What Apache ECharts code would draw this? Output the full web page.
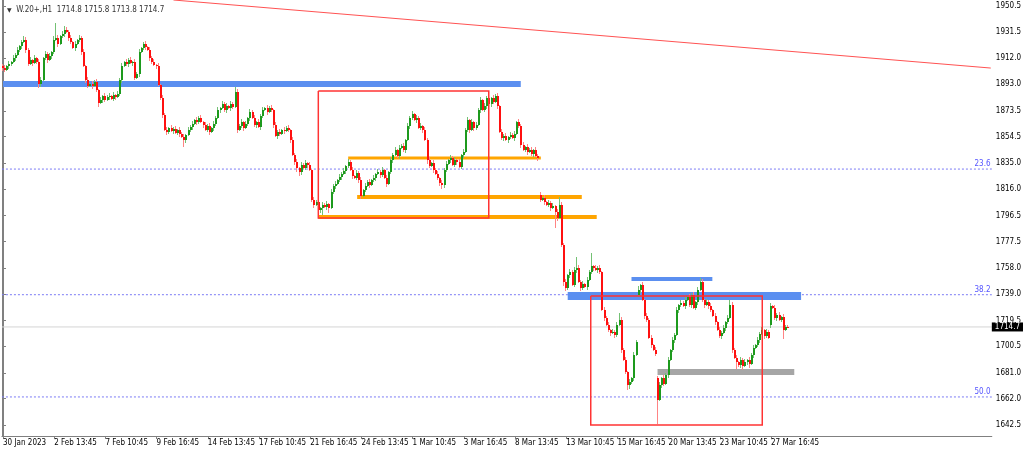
<!DOCTYPE html>
<html>
<head>
<meta charset="utf-8">
<script src="https://cdn.jsdelivr.net/npm/echarts@6/dist/echarts.min.js"></script>
<style>
html,body{margin:0;padding:0;background:#fff;}
#c{width:1024px;height:449px;}
</style>
</head>
<body>
<div id="c"></div>
<script>
// ---------- data ----------
const symbolTitle = 'W.20+,H1';
const lastBar = ['1714.8', '1715.8', '1713.8', '1714.7'];
const lastPrice = 1714.7;

const tickLabels = ['30 Jan 2023','2 Feb 13:45','7 Feb 10:45','9 Feb 16:45','14 Feb 13:45','17 Feb 10:45',
  '21 Feb 16:45','24 Feb 13:45','1 Mar 10:45','3 Mar 16:45','8 Mar 13:45','13 Mar 10:45',
  '15 Mar 16:45','20 Mar 13:45','23 Mar 10:45','27 Mar 16:45'];
const barsPerLabel = 24;
const totalSlots = 464;

const yTicks = [1642.5,1662.0,1681.0,1700.5,1719.5,1739.0,1758.0,1777.5,1796.5,1816.0,1835.0,1854.5,1873.5,1893.0,1912.0,1931.5,1950.5];
const yMin = 1634.6, yMax = 1954.9;

const closes = [
1904.9,1903.5,1906.4,1907.9,1909.4,1912.3,1914.5,1918.2,1921.1,1924.0,
1925.5,1918.2,1907.9,1910.8,1908.6,1912.3,1909.4,1893.2,1896.1,1912.3,
1915.2,1910.8,1913.8,1916.7,1925.5,1927.0,1922.6,1928.5,1929.9,1932.9,
1931.4,1927.0,1924.0,1919.6,1922.6,1925.5,1927.0,1916.7,1906.4,1896.1,
1891.7,1893.2,1891.7,1894.7,1888.8,1879.2,1881.4,1884.4,1881.4,1883.6,
1884.4,1882.2,1885.1,1883.6,1885.8,1896.1,1906.4,1909.4,1907.9,1910.8,
1908.6,1909.4,1897.6,1900.5,1916.7,1919.6,1922.6,1920.4,1918.2,1912.3,
1909.4,1907.1,1906.4,1892.5,1882.9,1870.4,1859.4,1857.9,1860.9,1858.7,
1860.1,1857.2,1859.4,1856.5,1854.3,1852.1,1855.7,1859.4,1861.6,1863.8,
1866.8,1865.3,1868.2,1865.3,1863.1,1859.4,1862.3,1857.9,1860.9,1863.8,
1868.2,1874.1,1875.6,1878.5,1874.1,1877.0,1875.6,1878.5,1876.3,1887.3,
1859.4,1862.3,1865.3,1860.9,1863.8,1868.2,1872.6,1868.2,1863.1,1865.3,
1861.6,1869.7,1874.1,1875.6,1872.6,1875.6,1874.1,1863.1,1855.0,1857.9,
1856.5,1859.4,1858.7,1860.9,1859.4,1852.1,1841.0,1835.9,1831.5,1828.5,
1833.7,1831.5,1835.2,1833.7,1830.0,1808.0,1804.3,1806.5,1800.6,1802.1,
1804.3,1802.8,1805.0,1802.1,1813.9,1818.3,1819.7,1822.7,1824.9,1827.1,
1829.3,1832.9,1835.9,1830.0,1825.6,1824.1,1827.8,1822.7,1810.9,1815.3,
1818.3,1821.2,1819.0,1822.7,1824.1,1827.1,1828.5,1826.3,1830.0,1824.1,
1819.7,1828.5,1837.4,1841.0,1844.7,1840.3,1846.2,1847.6,1844.7,1852.1,
1862.3,1868.2,1871.2,1866.8,1868.2,1860.9,1862.3,1859.4,1852.1,1837.4,
1832.9,1835.2,1830.0,1827.1,1824.1,1820.5,1819.0,1830.0,1834.4,1837.4,
1838.8,1833.7,1837.4,1835.9,1832.2,1841.0,1843.2,1859.4,1866.8,1859.4,
1865.3,1860.9,1863.1,1874.1,1881.4,1874.1,1877.0,1882.9,1878.5,1882.9,
1880.0,1884.4,1877.0,1857.9,1853.5,1855.0,1852.1,1854.3,1855.7,1853.5,
1856.5,1865.3,1862.3,1848.4,1844.7,1846.9,1843.2,1844.7,1841.8,1844.7,
1840.3,1838.8,1808.0,1809.4,1806.5,1804.3,1805.8,1802.1,1803.6,1799.2,
1794.8,1804.3,1774.9,1747.7,1743.3,1752.9,1755.1,1745.5,1756.6,1758.0,
1747.7,1743.3,1746.3,1744.1,1749.2,1755.1,1759.5,1758.0,1756.6,1758.0,
1755.1,1727.2,1721.3,1716.2,1712.5,1710.3,1711.0,1708.8,1716.2,1719.8,
1697.8,1690.4,1681.6,1672.1,1674.3,1677.2,1694.1,1703.7,1741.9,1745.5,
1734.5,1722.8,1719.8,1706.6,1701.5,1697.8,1694.9,1661.1,1672.1,1677.2,
1672.8,1679.4,1690.4,1697.8,1705.1,1708.8,1727.2,1730.8,1732.3,1730.1,
1734.5,1736.7,1730.8,1738.2,1728.6,1733.0,1741.9,1747.7,1734.5,1730.8,
1733.0,1730.1,1727.2,1722.8,1718.4,1712.5,1708.1,1710.3,1713.9,1718.4,
1721.3,1730.8,1697.8,1691.9,1689.0,1686.8,1690.4,1686.0,1689.0,1690.4,
1687.5,1694.1,1699.3,1701.5,1705.1,1709.5,1712.5,1708.1,1711.0,1706.6,
1730.1,1728.6,1721.3,1723.5,1719.8,1722.0,1712.5,1714.8,1714.7
];

// bars whose open is not the previous close (session gaps)
const gapOpens = [[0,1906.5],[252,1811.7],[298,1738.2],[307,1677.2],[360,1716.2]];

const wickUp = [
1.5,2,1,2.5,1,2,1.5,2,1,1.5,
3,2,1.5,2,1,2,1,2.5,2,1,
2,1.5,2,1,3,11,2,1,2,3,
2,1.5,2,1,2.5,1,2,1.5,2,1,
2.5,1,2,1.5,2,1,2.5,1,2,1.5,
2,1,2.5,1,2,1.5,2,1,2,1.5,
2,1,2.5,1.5,2,1,1.5,2,1,2,
1.5,2,1,2.5,1,2,1.5,2,1,2,
1.5,2.5,1,2,1.5,2,1,2,1.5,2.5,
1,2,1.5,2,1,2.5,1.5,2,1,2,
1.5,2,1,2.5,1.5,2,1,2,1.5,4,
2,1.5,2,1,2.5,1,2,1.5,2,1,
2,1.5,2.5,1,2,1.5,2,1,2,1.5,
2.5,1,2,1.5,2,1,2.5,1.5,2,1,
2,1.5,2,1,2.5,1,2,1.5,2,1,
2,1.5,2.5,1,2,1.5,2,1,2,1.5,
2,1,2.5,1.5,2,1,2,1.5,2.5,1,
2,1.5,2,1,2.5,1,2,1.5,2,1,
2.5,1,2,1.5,2,1,2.5,1.5,2,1,
2,1.5,2.5,1,2,1.5,2,1,2,1.5,
2,1,2.5,1.5,2,1,2,1.5,2.5,1,
2,1.5,2,1,2.5,1,2,1.5,2,1,
2.5,1,2,1.5,2,1,2.5,1.5,2,1,
2,1.5,2.5,1,2,1.5,2,1,2,1.5,
2,1,2.5,1.5,2,1,2,1.5,2.5,1,
2,1.5,2,1,2.5,1,2,1.5,2,1,
2.5,6,2,1.5,2,1,2.5,1.5,2,8,
2,1.5,2.5,1,2,1.5,9.5,1,2,1.5,
2,1,2.5,1.5,2,1,2,1.5,2.5,5,
2,1.5,2,1,2.5,1,2,1.5,3,1,
2.5,1,2,1.5,2,1,2.5,1.5,2,1,
2,1.5,2.5,1,2,1.5,2,1,2,1.5,
2,1,2.5,1.5,2,1,2,3,2.5,1,
2,1.5,2,1,2.5,1,2,1.5,2,1,
2.5,4,2,1.5,2,1,2.5,1.5,2,1,
2,1.5,2.5,1,2,1.5,2,1,2,1.5,
2,1,2.5,1.5,2,1,2,1,1.0
];

const wickDn = [
2,1.5,1,2,1.5,1,2,1,1.5,2,
1,2,1.5,1,2,1,1.5,3,2,1,
1.5,2,1,2,1.5,1,2,1,1.5,2,
1,2,1.5,1,2,1,1.5,2,1,2,
1.5,1,2,1,1.5,3,1,2,1.5,1,
2,1,1.5,2,1,1.5,2,1,1.5,2,
1,2,1.5,1,2,1,1.5,2,1,2,
1.5,1,2,1,1.5,2,1,2,1.5,1,
2,1,1.5,2,1,5,2,1,1.5,2,
1,2,1.5,1,2,1,1.5,2,1,2,
1.5,1,2,1,1.5,2,1,2,1.5,1,
2,1,1.5,2,1,1.5,2,1,1.5,2,
1,2,1.5,1,2,1,1.5,2,1,2,
1.5,1,2,1,1.5,2,1,2,3,3,
2,1,1.5,2,1,1.5,2,1,4,2,
5,1,2,4,1,1.5,2,1,1.5,2,
1,2,1.5,1,2,1,1.5,2,2,1,
1.5,1,2,1,1.5,2,1,2,1.5,1,
2,1,1.5,2,1,1.5,2,1,1.5,2,
1,2,1.5,1,2,1,1.5,2,1,3,
1.5,1,2,1,1.5,2,3,2,1.5,1,
2,1,1.5,2,1,1.5,2,1,1.5,2,
1,2,1.5,1,2,1,1.5,2,1,2,
1.5,1,2,1,1.5,2,1,2,1.5,1,
2,1,1.5,2,1,1.5,2,1,1.5,2,
1,2,1.5,1,2,1,1.5,2,1,12,
2,1,1.5,3,2,1.5,2,1,1.5,2,
1,2,1.5,1,2,1,1.5,2,1,2,
1.5,1,2,1,1.5,2,1,2,1.5,1,
2,1,1.5,3.5,3,1.5,2,1,1.5,2,
1,2,1.5,1,2,1,1.5,17.7,1,2,
1.5,1,2,1,1.5,2,1,2,1.5,1,
2,1,1.5,2,1,1.5,2,1,1.5,2,
1,2,1.5,1,2,1,1.5,2,1,2,
1.5,1,2,1,5,1.5,2,3,1,2,
3,1,2,1,1.5,2,1,2,1.5,1,
2,1,1.5,2,1,1.5,7,1,0.9
];

// fibonacci levels [label, price]
const fibLevels = [['23.6',1830.7],['38.2',1738.4],['50.0',1663.3]];
// drawn objects in chart coordinates [fromBar, toBar, price]
const trendLine = [[79.9,1954.9],[463,1904.9]];
const blueZones = [[0,242.7,1893.2],[264.7,374.1,1737.4],[294.6,332.5,1749.9]];
const orangeLines = [[161.8,252.1,1838.8],[166.0,271.3,1810.2],[147.8,278.3,1795.5]];
const grayZones = [[306.8,370.9,1681.6]];
// rectangles [fromBar, toBar, topPrice, bottomPrice]
const boxes = [[147.8,227.7,1888.05,1794.7],[275.5,355.9,1737.4,1642.7]];

// ---------- build ----------
const FONT = "'Liberation Sans Narrow','DejaVu Sans Condensed','Liberation Sans',sans-serif";
const UP = '#1d9a1d', DN = '#ff1010', UP_W = '#74c174', DN_W = '#ff8484';
const categories = [];
for (let i = 0; i < totalSlots; i++) {
  const k = i / barsPerLabel;
  categories.push(i % barsPerLabel === 0 && k < tickLabels.length ? tickLabels[k] : '');
}
const gapMap = {};
gapOpens.forEach(g => gapMap[g[0]] = g[1]);
const ohlc = closes.map((c, i) => {
  const o = (i in gapMap) ? gapMap[i] : closes[i - 1];
  const hi = Math.max(o, c) + wickUp[i];
  const lo = Math.min(o, c) - wickDn[i];
  return [i, o, c, +lo.toFixed(1), +hi.toFixed(1)];
});

const xLo = -0.5, xHi = totalSlots - 0.5;
function hLine(name, x1, x2, y, color, width, z, extra) {
  return Object.assign({
    name, type: 'line', xAxisIndex: 1, yAxisIndex: 0, data: [[x1, y], [x2, y]],
    symbol: 'none', silent: true, z: z, animation: false,
    lineStyle: { color: color, width: width, cap: 'butt' }
  }, extra || {});
}

function renderCandle(params, api) {
  const i = api.value(0), o = api.value(1), c = api.value(2), lo = api.value(3), hi = api.value(4);
  const pO = api.coord([i, o]), pC = api.coord([i, c]), pL = api.coord([i, lo]), pH = api.coord([i, hi]);
  const x = Math.round(pO[0]);
  const up = c >= o;
  const top = Math.round(Math.min(pO[1], pC[1]));
  const bot = Math.round(Math.max(pO[1], pC[1]));
  return {
    type: 'group',
    children: [
      { type: 'line', shape: { x1: x - 0.5, y1: Math.round(pH[1]), x2: x - 0.5, y2: Math.round(pL[1]) },
        style: { stroke: up ? UP_W : DN_W, lineWidth: 1 } },
      { type: 'rect', shape: { x: x - 1, y: top, width: 2, height: Math.max(1, bot - top) },
        style: { fill: up ? UP : DN } }
    ]
  };
}

const series = [];
fibLevels.forEach(f => {
  series.push(hLine('fib' + f[0], xLo, xHi, f[1], '#7b7bf5', 1, 1, {
    lineStyle: { color: '#7b7bf5', width: 1, type: [2, 2] },
    markPoint: {
      silent: true, symbol: 'circle', symbolSize: 0, animation: false,
      data: [{ coord: [xHi - 0.6, f[1]], value: f[0] }],
      label: { show: true, position: 'left', distance: 0, offset: [0, -5], formatter: f[0],
        color: '#5555ff', fontSize: 8, fontFamily: FONT }
    }
  }));
});
series.push(hLine('last', xLo, xHi, lastPrice, '#d4d4d4', 1, 1, {
  markPoint: {
    silent: true, symbol: 'circle', symbolSize: 0, animation: false,
    data: [{ coord: [xHi, lastPrice], value: lastPrice }],
    label: { show: true, position: 'right', distance: 0, formatter: lastPrice.toFixed(1),
      color: '#fff', backgroundColor: '#000', padding: [1, 3, 0, 3], fontSize: 8, fontFamily: FONT }
  }
}));
series.push({
  name: 'trend', type: 'line', xAxisIndex: 1, yAxisIndex: 0, data: trendLine, symbol: 'none',
  silent: true, z: 1, animation: false, lineStyle: { color: '#ff5252', width: 1 }
});
const blueW = [6, 8, 4];
blueZones.forEach((b, i) => series.push(hLine('blue' + i, b[0], b[1], b[2], '#5b8ff0', blueW[i], 2)));
const orangeW = [3, 4, 4];
orangeLines.forEach((b, i) => series.push(hLine('orange' + i, b[0], b[1], b[2], '#ffa500', orangeW[i], 2)));
grayZones.forEach((b, i) => series.push(hLine('gray' + i, b[0], b[1], b[2], '#a6a6a6', 6, 2)));

series.push({
  name: 'W.20', type: 'custom', xAxisIndex: 0, yAxisIndex: 0, data: ohlc,
  encode: { x: 0, y: [1, 2, 3, 4] }, renderItem: renderCandle,
  z: 3, animation: false, silent: true, clip: true
});
boxes.forEach((b, i) => series.push({
  name: 'box' + i, type: 'line', xAxisIndex: 1, yAxisIndex: 0, symbol: 'none', silent: true, z: 4, animation: false,
  data: [[b[0], b[2]], [b[1], b[2]], [b[1], b[3]], [b[0], b[3]], [b[0], b[2]]],
  lineStyle: { color: '#ff3333', width: 1.5, join: 'miter' }
}));

const chart = echarts.init(document.getElementById('c'), null, { renderer: 'canvas' });
chart.setOption({
  animation: false,
  backgroundColor: '#ffffff',
  textStyle: { fontFamily: FONT },
  title: {
    left: 2, top: 1,
    text: '{t|▼}  ' + symbolTitle + '  ' + lastBar.join(' '),
    textStyle: { fontSize: 8, fontWeight: 'normal', color: '#333', fontFamily: FONT,
      rich: { t: { fontSize: 6, color: '#333', fontFamily: 'DejaVu Sans' } } }
  },
  grid: { left: 1, right: 31, top: 0, bottom: 13, containLabel: false },
  xAxis: [{
    type: 'category', data: categories, boundaryGap: true,
    axisLine: { show: true, lineStyle: { color: '#808080', width: 1 } },
    axisTick: { show: true, alignWithLabel: true, length: 3, interval: (i, v) => v !== '', lineStyle: { color: '#808080' } },
    axisLabel: { interval: (i, v) => v !== '', align: 'left', margin: 3, fontSize: 8, color: '#000', fontFamily: FONT, showMinLabel: true, showMaxLabel: true, hideOverlap: false },
    splitLine: { show: false }
  }, {
    type: 'value', min: xLo, max: xHi, show: false
  }],
  yAxis: [{
    type: 'value', position: 'right', min: yMin, max: yMax, scale: true,
    axisLine: { show: true, lineStyle: { color: '#808080', width: 1 } },
    axisTick: { show: true, inside: false, length: 3, customValues: yTicks, lineStyle: { color: '#808080' } },
    axisLabel: { customValues: yTicks, formatter: v => v.toFixed(1), margin: 4, fontSize: 8, color: '#000', fontFamily: FONT, showMinLabel: true, showMaxLabel: true },
    splitLine: { show: false }
  }, {
    type: 'value', position: 'left', min: yMin, max: yMax,
    axisLine: { show: true, lineStyle: { color: '#808080', width: 1 } },
    axisTick: { show: false }, axisLabel: { show: false }, splitLine: { show: false }
  }],
  series: series
});
</script>
</body>
</html>
